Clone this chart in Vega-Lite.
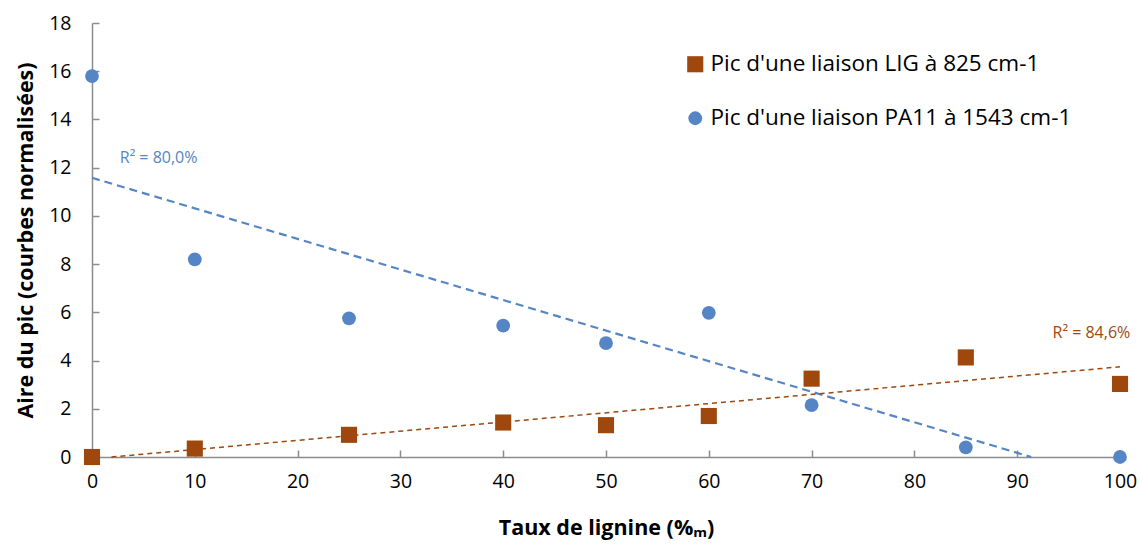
{
  "$schema": "https://vega.github.io/schema/vega-lite/v6.json",
  "autosize": "none",
  "width": 1028,
  "height": 434,
  "padding": {"left": 92, "top": 23, "right": 20, "bottom": 100},
  "background": "white",
  "config": {
    "font": "Open Sans",
    "view": {"stroke": null},
    "axis": {"grid": false, "domainColor": "#8c8c8c", "tickColor": "#8c8c8c", "domainWidth": 1.5, "tickWidth": 1.5, "labelColor": "#000000", "labelFontSize": 19.5, "labelFont": "Open Sans", "labelFlush": false, "titleFont": "Open Sans", "titleFontSize": 21.5, "titleFontWeight": "bold", "titleColor": "#000000"}
  },
  "datasets": {
    "points": [
      {"taux": 0, "aire": 0, "serie": "Pic d'une liaison LIG à 825 cm-1"},
      {"taux": 10, "aire": 0.35, "serie": "Pic d'une liaison LIG à 825 cm-1"},
      {"taux": 25, "aire": 0.92, "serie": "Pic d'une liaison LIG à 825 cm-1"},
      {"taux": 40, "aire": 1.43, "serie": "Pic d'une liaison LIG à 825 cm-1"},
      {"taux": 50, "aire": 1.32, "serie": "Pic d'une liaison LIG à 825 cm-1"},
      {"taux": 60, "aire": 1.7, "serie": "Pic d'une liaison LIG à 825 cm-1"},
      {"taux": 70, "aire": 3.25, "serie": "Pic d'une liaison LIG à 825 cm-1"},
      {"taux": 85, "aire": 4.13, "serie": "Pic d'une liaison LIG à 825 cm-1"},
      {"taux": 100, "aire": 3.03, "serie": "Pic d'une liaison LIG à 825 cm-1"},
      {"taux": 0, "aire": 15.8, "serie": "Pic d'une liaison PA11 à 1543 cm-1"},
      {"taux": 10, "aire": 8.2, "serie": "Pic d'une liaison PA11 à 1543 cm-1"},
      {"taux": 25, "aire": 5.75, "serie": "Pic d'une liaison PA11 à 1543 cm-1"},
      {"taux": 40, "aire": 5.45, "serie": "Pic d'une liaison PA11 à 1543 cm-1"},
      {"taux": 50, "aire": 4.72, "serie": "Pic d'une liaison PA11 à 1543 cm-1"},
      {"taux": 60, "aire": 5.98, "serie": "Pic d'une liaison PA11 à 1543 cm-1"},
      {"taux": 70, "aire": 2.15, "serie": "Pic d'une liaison PA11 à 1543 cm-1"},
      {"taux": 85, "aire": 0.4, "serie": "Pic d'une liaison PA11 à 1543 cm-1"},
      {"taux": 100, "aire": 0, "serie": "Pic d'une liaison PA11 à 1543 cm-1"}
    ],
    "trends": [
      {"taux": 1.89, "aire": 0, "trend": "LIG"},
      {"taux": 100, "aire": 3.74, "trend": "LIG"},
      {"taux": 0, "aire": 11.58, "trend": "PA11"},
      {"taux": 91.36, "aire": 0, "trend": "PA11"}
    ],
    "labels": [
      {"taux": 2.7, "aire": 12.4, "label": "R² = 80,0%", "trend": "PA11"},
      {"taux": 101, "aire": 5.15, "label": "R² = 84,6%", "trend": "LIG"}
    ]
  },
  "layer": [
    {
      "data": {"name": "trends"},
      "transform": [{"filter": "datum.trend === 'PA11'"}],
      "mark": {"type": "line", "color": "#5585c5", "strokeWidth": 2.2, "strokeDash": [8, 5]},
      "encoding": {
        "x": {"field": "taux", "type": "quantitative"},
        "y": {"field": "aire", "type": "quantitative"}
      }
    },
    {
      "data": {"name": "trends"},
      "transform": [{"filter": "datum.trend === 'LIG'"}],
      "mark": {"type": "line", "color": "#9e480e", "strokeWidth": 1.5, "strokeDash": [5, 4]},
      "encoding": {
        "x": {"field": "taux", "type": "quantitative"},
        "y": {"field": "aire", "type": "quantitative"}
      }
    },
    {
      "data": {"name": "points"},
      "mark": {"type": "point", "filled": true, "opacity": 1, "strokeWidth": 0},
      "encoding": {
        "x": {"field": "taux", "type": "quantitative", "scale": {"domain": [0, 100], "nice": false},
          "axis": {"values": [0,10,20,30,40,50,60,70,80,90,100], "tickSize": -7, "labelPadding": 22, "title": "Taux de lignine (%ₘ)", "titleY": 60}},
        "y": {"field": "aire", "type": "quantitative", "scale": {"domain": [0, 18], "nice": false},
          "axis": {"values": [0,2,4,6,8,10,12,14,16,18], "tickSize": -7, "labelPadding": 28, "title": "Aire du pic (courbes normalisées)", "titleX": -55}},
        "color": {"field": "serie", "type": "nominal",
          "scale": {"domain": ["Pic d'une liaison LIG à 825 cm-1", "Pic d'une liaison PA11 à 1543 cm-1"], "range": ["#9e480e", "#5585c5"]},
          "legend": {"orient": "none", "legendX": 592, "legendY": 30, "title": null, "labelFontSize": 22.5, "labelFont": "Open Sans", "labelColor": "#000000", "labelLimit": 500, "symbolSize": 210, "rowPadding": 31, "labelOffset": 4, "symbolStrokeWidth": 0}},
        "shape": {"field": "serie", "type": "nominal",
          "scale": {"domain": ["Pic d'une liaison LIG à 825 cm-1", "Pic d'une liaison PA11 à 1543 cm-1"], "range": ["square", "circle"]}},
        "size": {"field": "serie", "type": "nominal",
          "scale": {"domain": ["Pic d'une liaison LIG à 825 cm-1", "Pic d'une liaison PA11 à 1543 cm-1"], "range": [260, 190]}, "legend": null}
      }
    },
    {
      "data": {"name": "labels"},
      "transform": [{"filter": "datum.trend === 'PA11'"}],
      "mark": {"type": "text", "align": "left", "baseline": "middle", "fontSize": 16, "color": "#5585c5", "font": "Open Sans"},
      "encoding": {
        "x": {"field": "taux", "type": "quantitative"},
        "y": {"field": "aire", "type": "quantitative"},
        "text": {"field": "label"}
      }
    },
    {
      "data": {"name": "labels"},
      "transform": [{"filter": "datum.trend === 'LIG'"}],
      "mark": {"type": "text", "align": "right", "baseline": "middle", "fontSize": 16, "color": "#9e480e", "font": "Open Sans"},
      "encoding": {
        "x": {"field": "taux", "type": "quantitative"},
        "y": {"field": "aire", "type": "quantitative"},
        "text": {"field": "label"}
      }
    }
  ]
}
